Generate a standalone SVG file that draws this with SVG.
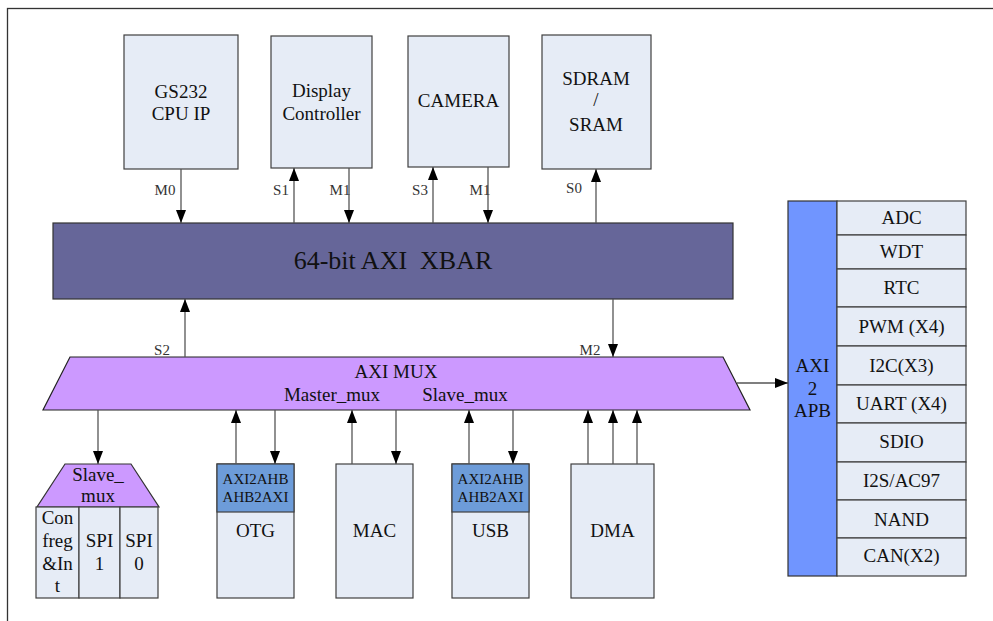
<svg xmlns="http://www.w3.org/2000/svg" width="993" height="621" viewBox="0 0 993 621">
<defs>
<marker id="ah" markerUnits="userSpaceOnUse" markerWidth="14" markerHeight="11" refX="13" refY="5" orient="auto"><path d="M0,0 L13,5 L0,10 z" fill="#000"/></marker>
<style>
.box{fill:#e6ecf6;stroke:#404040;stroke-width:1.2}
.t{font-family:"Liberation Serif","Times New Roman",serif;font-size:19px;fill:#111;text-anchor:middle}
.s{font-size:15px}
.lb{font-family:"Liberation Serif","Times New Roman",serif;font-size:15px;fill:#333;text-anchor:middle}
.c{stroke:#555;stroke-width:1.3;fill:none;marker-end:url(#ah)}
.hd{fill:#6d9cd9;stroke:#404040;stroke-width:1.2}
</style>
</defs>
<rect width="993" height="621" fill="#fff"/>
<rect x="7.5" y="8.5" width="1000" height="700" fill="none" stroke="#333" stroke-width="1.3"/>

<g id="cpu"><rect class="box" x="124" y="35" width="114" height="134"/><text class="t" x="181" y="98">GS232</text><text class="t" x="181" y="120">CPU IP</text></g>
<g id="display"><rect class="box" x="271" y="36" width="101" height="132"/><text class="t" x="321.5" y="97">Display</text><text class="t" x="321.5" y="120">Controller</text></g>
<g id="camera"><rect class="box" x="408" y="36" width="101" height="131"/><text class="t" x="458.5" y="107">CAMERA</text></g>
<g id="sdram"><rect class="box" x="542" y="35" width="109" height="134"/><text class="t" x="596" y="85">SDRAM</text><text class="t" x="596" y="106">/</text><text class="t" x="596" y="131">SRAM</text></g>

<g id="xbar"><rect x="53" y="223" width="680" height="76" fill="#666699" stroke="#333" stroke-width="1.2"/><text class="t" x="393" y="269" style="font-size:26px;white-space:pre">64-bit AXI  XBAR</text></g>

<g id="axi_mux"><polygon points="70,357 723,357 750,410 43,410" fill="#cc99ff" stroke="#222" stroke-width="1.2"/><text class="t" x="396" y="378">AXI MUX</text><text class="t" x="332" y="401">Master_mux</text><text class="t" x="465" y="401">Slave_mux</text></g>

<g id="axi2apb"><rect x="788" y="201" width="49" height="375" fill="#7095ff" stroke="#333" stroke-width="1.2"/><text class="t" x="812.5" y="372">AXI</text><text class="t" x="812.5" y="395">2</text><text class="t" x="812.5" y="417">APB</text></g>

<g id="peripherals">
<rect class="box" x="837" y="201" width="129" height="34"/><text class="t" x="901.5" y="224">ADC</text>
<rect class="box" x="837" y="235" width="129" height="34"/><text class="t" x="901.5" y="258">WDT</text>
<rect class="box" x="837" y="269" width="129" height="38"/><text class="t" x="901.5" y="294">RTC</text>
<rect class="box" x="837" y="307" width="129" height="39"/><text class="t" x="901.5" y="333">PWM (X4)</text>
<rect class="box" x="837" y="346" width="129" height="39"/><text class="t" x="901.5" y="372">I2C(X3)</text>
<rect class="box" x="837" y="385" width="129" height="38"/><text class="t" x="901.5" y="410">UART (X4)</text>
<rect class="box" x="837" y="423" width="129" height="39"/><text class="t" x="901.5" y="448">SDIO</text>
<rect class="box" x="837" y="462" width="129" height="38"/><text class="t" x="901.5" y="487">I2S/AC97</text>
<rect class="box" x="837" y="500" width="129" height="38"/><text class="t" x="901.5" y="526">NAND</text>
<rect class="box" x="837" y="538" width="129" height="38"/><text class="t" x="901.5" y="562">CAN(X2)</text>
</g>

<g id="slave_mux"><polygon points="65,464 131,464 159,507 37,507" fill="#cc99ff" stroke="#333" stroke-width="1.2"/><text class="t" x="98" y="481">Slave_</text><text class="t" x="98" y="502">mux</text></g>
<g id="confreg"><rect class="box" x="36" y="507" width="43" height="91"/><text class="t" x="57.5" y="524">Con</text><text class="t" x="57.5" y="547">freg</text><text class="t" x="57.5" y="570">&amp;In</text><text class="t" x="57.5" y="592">t</text></g>
<g id="spi1"><rect class="box" x="79" y="507" width="41" height="91"/><text class="t" x="99.5" y="547">SPI</text><text class="t" x="99.5" y="570">1</text></g>
<g id="spi0"><rect class="box" x="120" y="507" width="38" height="91"/><text class="t" x="139" y="547">SPI</text><text class="t" x="139" y="570">0</text></g>

<g id="otg"><rect class="box" x="217" y="464" width="77" height="134"/><rect class="hd" x="217" y="464" width="77" height="48"/><text class="t s" x="255.5" y="484">AXI2AHB</text><text class="t s" x="255.5" y="502">AHB2AXI</text><text class="t" x="255.5" y="537">OTG</text></g>
<g id="mac"><rect class="box" x="336" y="464" width="77" height="134"/><text class="t" x="374.5" y="537">MAC</text></g>
<g id="usb"><rect class="box" x="452" y="464" width="77" height="134"/><rect class="hd" x="452" y="464" width="77" height="48"/><text class="t s" x="490.5" y="484">AXI2AHB</text><text class="t s" x="490.5" y="502">AHB2AXI</text><text class="t" x="490.5" y="537">USB</text></g>
<g id="dma"><rect class="box" x="571" y="464" width="83" height="134"/><text class="t" x="612.5" y="537">DMA</text></g>

<g id="connectors">
<line class="c" x1="181" y1="169" x2="181" y2="223"/>
<line class="c" x1="294" y1="223" x2="294" y2="168"/>
<line class="c" x1="349" y1="168" x2="349" y2="223"/>
<line class="c" x1="433" y1="223" x2="433" y2="167"/>
<line class="c" x1="488" y1="167" x2="488" y2="223"/>
<line class="c" x1="596" y1="223" x2="596" y2="169"/>
<line class="c" x1="185" y1="357" x2="185" y2="299"/>
<line class="c" x1="613" y1="299" x2="613" y2="357"/>
<line class="c" x1="737" y1="383" x2="788" y2="383"/>
<line class="c" x1="98" y1="410" x2="98" y2="464"/>
<line class="c" x1="236" y1="464" x2="236" y2="410"/>
<line class="c" x1="275" y1="410" x2="275" y2="464"/>
<line class="c" x1="352" y1="464" x2="352" y2="410"/>
<line class="c" x1="396" y1="410" x2="396" y2="464"/>
<line class="c" x1="469" y1="464" x2="469" y2="410"/>
<line class="c" x1="513" y1="410" x2="513" y2="464"/>
<line class="c" x1="588" y1="464" x2="588" y2="410"/>
<line class="c" x1="613" y1="464" x2="613" y2="410"/>
<line class="c" x1="637" y1="464" x2="637" y2="410"/>
<text class="lb" x="165" y="195">M0</text>
<text class="lb" x="281" y="195">S1</text>
<text class="lb" x="340" y="195">M1</text>
<text class="lb" x="420" y="195">S3</text>
<text class="lb" x="480" y="195">M1</text>
<text class="lb" x="574" y="193">S0</text>
<text class="lb" x="162" y="355">S2</text>
<text class="lb" x="590" y="355">M2</text>
</g>
</svg>
